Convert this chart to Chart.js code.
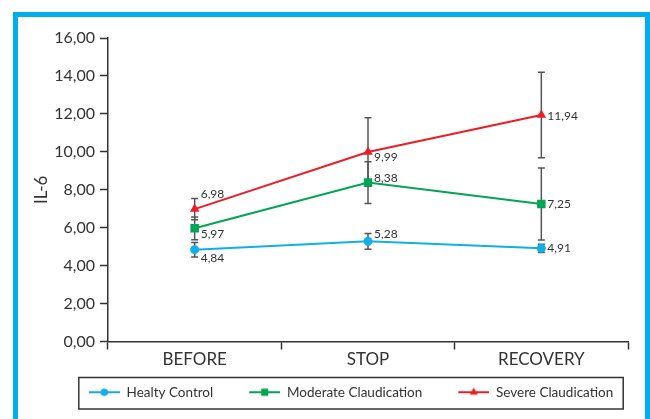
<!DOCTYPE html>
<html>
<head>
<meta charset="utf-8">
<script src="https://cdn.jsdelivr.net/npm/chart.js@4/dist/chart.umd.min.js"></script>
<style>
  html, body { margin: 0; padding: 0; background: #fff; overflow: hidden; }
  .frame {
    position: absolute; left: 13px; top: 12px; width: 637px; height: 480px;
    border: 5px solid #00aeef; box-sizing: border-box;
  }
  #il6 { position: absolute; left: 0; top: 0; }
</style>
</head>
<body>
<div class="frame"></div>
<canvas id="il6" width="650" height="419"></canvas>
<script>
(function () {
    "use strict";

    // data
    const categories = ["BEFORE", "STOP", "RECOVERY"];
    const seriesNames = ["Healty Control", "Moderate Claudication", "Severe Claudication"];
    const healthy = [4.84, 5.28, 4.91];
    const moderate = [5.97, 8.38, 7.25];
    const severe = [6.98, 9.99, 11.94];
    const healthyErr = [0.38, 0.42, 0.22];
    const moderateErr = [0.6, 1.1, 1.9];
    const severeErr = [0.56, 1.8, 2.25];
    const yMin = 0, yMax = 16, yStep = 2;

    const series = [healthy, moderate, severe];
    const errors = [healthyErr, moderateErr, severeErr];

    // styling
    const colors = ["#12aee8", "#00a651", "#ee1c25"];
    const markers = ["circle", "rect", "triangle"];
    const radii = [4.5, 6, 5.5];
    // where each value label sits relative to its point [dx, dy]
    const labelOffsets = [
        [[6, 8], [6, -7], [6, 0]],
        [[6, 6], [6, -4], [6, 0]],
        [[6, -15], [6, 5], [6, 1]]
    ];
    const fontFamily = "Lato, 'Liberation Sans', sans-serif";
    const fmt = v => v.toFixed(2).replace(".", ",");
    const lead = 28; // blank space in front of each legend swatch

    // legend swatch: line with marker
    function swatch(i) {
        const c = document.createElement("canvas");
        c.width = lead + 31; c.height = 14;
        const g = c.getContext("2d");
        g.strokeStyle = colors[i];
        g.lineWidth = 2;
        g.beginPath();
        g.moveTo(lead, 7); g.lineTo(lead + 31, 7);
        g.stroke();
        g.fillStyle = colors[i];
        Chart.helpers.drawPoint(g, {pointStyle: markers[i], radius: radii[i] * 0.8, borderWidth: 0}, lead + 15.5, 7);
        g.fill();
        return c;
    }
    const swatches = seriesNames.map((n, i) => swatch(i));

    const errorBars = {
        id: "errorBars",
        beforeDatasetsDraw(chart) {
            const {ctx, scales: {x, y}} = chart;
            ctx.save();
            ctx.strokeStyle = "#555";
            ctx.lineWidth = 1.5;
            errors.forEach((errs, d) => {
                errs.forEach((e, i) => {
                    const px = x.getPixelForValue(i);
                    const top = y.getPixelForValue(series[d][i] + e);
                    const bot = y.getPixelForValue(series[d][i] - e);
                    ctx.beginPath();
                    ctx.moveTo(px, top); ctx.lineTo(px, bot);
                    ctx.moveTo(px - 3.5, top); ctx.lineTo(px + 3.5, top);
                    ctx.moveTo(px - 3.5, bot); ctx.lineTo(px + 3.5, bot);
                    ctx.stroke();
                });
            });
            ctx.restore();
        }
    };

    const valueLabels = {
        id: "valueLabels",
        afterDatasetsDraw(chart) {
            const ctx = chart.ctx;
            ctx.save();
            ctx.font = "12px " + fontFamily;
            ctx.fillStyle = "#333";
            ctx.textAlign = "left";
            ctx.textBaseline = "middle";
            series.forEach((vals, d) => {
                chart.getDatasetMeta(d).data.forEach((pt, i) => {
                    const off = labelOffsets[d][i];
                    ctx.fillText(fmt(vals[i]), pt.x + off[0], pt.y + off[1]);
                });
            });
            ctx.restore();
        }
    };

    const legendFrame = {
        id: "legendFrame",
        afterDraw(chart) {
            const boxes = chart.legend.legendHitBoxes;
            if (!boxes || !boxes.length) return;
            const first = boxes[0], last = boxes[boxes.length - 1];
            const ctx = chart.ctx;
            ctx.save();
            ctx.strokeStyle = "#333";
            ctx.lineWidth = 1.5;
            const l = first.left + lead - 10, r = last.left + last.width + 10;
            ctx.strokeRect(l, chart.legend.top, r - l, chart.legend.height);
            ctx.restore();
        }
    };

    const ctx = document.getElementById("il6").getContext("2d");

    new Chart(ctx, {
        type: "line",
        data: {
            labels: categories,
            datasets: series.map((vals, i) => ({
                label: seriesNames[i],
                data: vals,
                borderColor: colors[i],
                backgroundColor: colors[i],
                borderWidth: 2,
                pointStyle: markers[i],
                pointRadius: radii[i],
                pointBorderWidth: 0,
                tension: 0,
                fill: false
            }))
        },
        options: {
            responsive: false,
            animation: false,
            layout: {
                padding: {top: 38, right: 22, bottom: 10, left: 46}
            },
            scales: {
                x: {
                    offset: true,
                    grid: {
                        offset: true,
                        drawOnChartArea: false,
                        tickLength: 8,
                        tickWidth: 1.5,
                        tickColor: "#333"
                    },
                    border: {color: "#333", width: 1.5},
                    ticks: {
                        color: "#333",
                        padding: 0,
                        font: {family: fontFamily, size: 17}
                    },
                    afterFit(scale) { scale.height = 36; }
                },
                y: {
                    min: yMin,
                    max: yMax,
                    grid: {
                        drawOnChartArea: false,
                        tickLength: 8,
                        tickWidth: 1.5,
                        tickColor: "#333"
                    },
                    border: {color: "#333", width: 1.5},
                    ticks: {
                        stepSize: yStep,
                        color: "#333",
                        padding: 5,
                        font: {family: fontFamily, size: 16},
                        callback: v => fmt(v)
                    },
                    title: {
                        display: true,
                        text: "IL-6",
                        color: "#333",
                        padding: {top: -15, bottom: 0},
                        font: {family: fontFamily, size: 17}
                    },
                    afterFit(scale) { scale.width = 62; }
                }
            },
            plugins: {
                legend: {
                    position: "bottom",
                    labels: {
                        usePointStyle: true,
                        pointStyleWidth: lead + 31,
                        boxHeight: 14,
                        padding: 8,
                        color: "#333",
                        font: {family: fontFamily, size: 13.5},
                        generateLabels(chart) {
                            const items = Chart.defaults.plugins.legend.labels.generateLabels(chart);
                            items.forEach((it, i) => { it.pointStyle = swatches[i]; });
                            return items;
                        }
                    }
                },
                tooltip: {enabled: false}
            }
        },
        plugins: [errorBars, valueLabels, legendFrame]
    });

})();
</script>
</body>
</html>
